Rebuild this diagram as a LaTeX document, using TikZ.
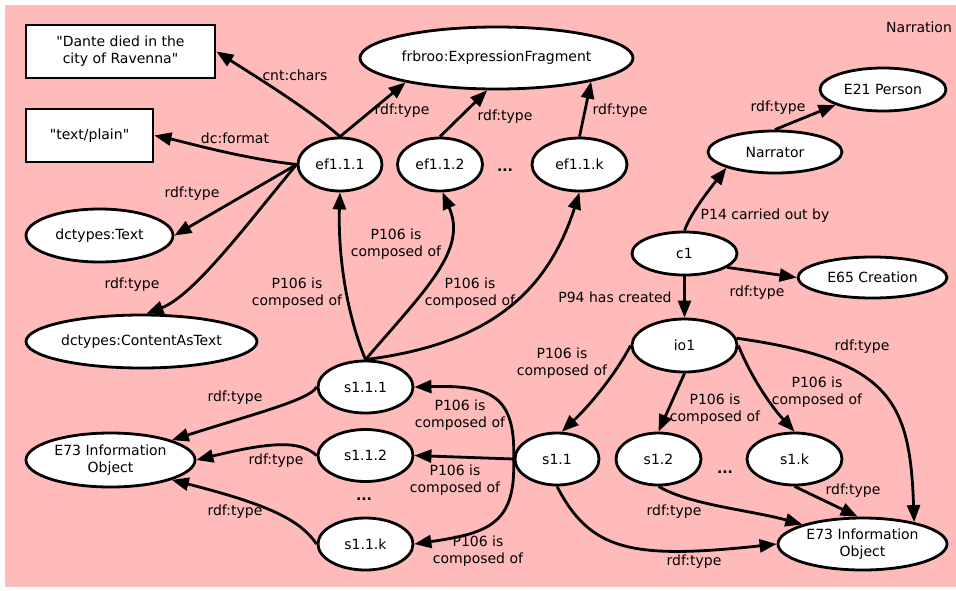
\documentclass[tikz,border=0pt]{standalone}
\usepackage{fontspec}
\setmainfont{DejaVu Sans}[Ligatures=TeXOff]
\usetikzlibrary{shapes.geometric,arrows.meta}
\definecolor{bgpink}{RGB}{255,186,186}
\begin{document}
\begin{tikzpicture}[x=1pt,y=-1pt,
  font=\fontsize{14}{17}\selectfont,
  ent/.style={ellipse,draw=black,fill=white,line width=2.8pt,inner sep=0pt,align=center},
  lit/.style={rectangle,draw=black,fill=white,line width=2.8pt,inner sep=0pt,align=center},
  rel/.style={line width=2.8pt,-{Triangle[length=17pt,width=13pt]}},
  lbl/.style={inner sep=0pt,align=center},
  ellip/.style={inner sep=0pt,anchor=base,font=\fontsize{14}{17}\selectfont\bfseries}]
\useasboundingbox (0,0) rectangle (956,590);
\fill[bgpink] (5,5) rectangle (960,587);

% literals
\node[lit,minimum width=189pt,minimum height=53pt] (dante) at (120.5,51.5) {"Dante died in the\\city of Ravenna"};
\node[lit,minimum width=127pt,minimum height=53pt] (plain) at (89.5,135.5) {"text/plain"};

% expression fragments
\node[ent,minimum width=273pt,minimum height=62pt] (frbroo) at (496.5,58) {frbroo:ExpressionFragment};
\node[ent,minimum width=84pt,minimum height=53pt] (ef111) at (340,164.5) {ef1.1.1};
\node[ent,minimum width=85pt,minimum height=53pt] (ef112) at (440,164.5) {ef1.1.2};
\node[ellip] (efdots) at (505,171) {...};
\node[ent,minimum width=95pt,minimum height=53pt] (ef11k) at (579.5,164.5) {ef1.1.k};
\node[ent,minimum width=147pt,minimum height=53pt] (dctext) at (99.5,235.5) {dctypes:Text};
\node[ent,minimum width=231pt,minimum height=53pt] (cat) at (141.5,341.5) {dctypes:ContentAsText};

% creation and narrator
\node[lbl,anchor=west] (narration) at (886,27) {Narration};
\node[ent,minimum width=126pt,minimum height=43pt] (e21) at (883,89.5) {E21 Person};
\node[ent,minimum width=134pt,minimum height=42pt] (narrator) at (775,152) {Narrator};
\node[ent,minimum width=105pt,minimum height=43pt] (c1) at (684.5,253.5) {c1};
\node[ent,minimum width=149pt,minimum height=41pt] (e65) at (872.5,277.5) {E65 Creation};

% information objects and segments
\node[ent,minimum width=105pt,minimum height=53pt] (io1) at (684.5,345.5) {io1};
\node[ent,minimum width=84pt,minimum height=52pt] (s11) at (557,459) {s1.1};
\node[ent,minimum width=85pt,minimum height=52pt] (s12) at (658.5,459) {s1.2};
\node[ellip] (sdots) at (725,473) {...};
\node[ent,minimum width=95pt,minimum height=52pt] (s1k) at (794.5,459) {s1.k};
\node[ent,minimum width=169pt,minimum height=52pt] (e73r) at (862.5,544) {E73 Information\\Object};

\node[ent,minimum width=95pt,minimum height=52pt] (s111) at (365.5,387) {s1.1.1};
\node[ent,minimum width=95pt,minimum height=52pt] (s112) at (365.5,455.5) {s1.1.2};
\node[ellip] (ssdots) at (364,500) {...};
\node[ent,minimum width=95pt,minimum height=52pt] (s11k) at (365.5,544) {s1.1.k};
\node[ent,minimum width=169pt,minimum height=54pt] (e73l) at (110.5,460) {E73 Information\\Object};

% properties of ef1.1.1
\draw[rel] (ef111.north) .. controls (310,110) and (255,76) .. (dante.east);
\draw[rel] (ef111.north) -- (frbroo.195);
\draw[rel] (ef111.west) .. controls (240,158) and (185,142) .. (plain.east);
\draw[rel] (ef111.west) -- (dctext.east);
\draw[rel] (ef111.west) .. controls (250,220) and (195,295) .. (cat.80);
\draw[rel] (ef112.north) -- (frbroo.254);
\draw[rel] (ef11k.north) -- (frbroo.346);

% creation
\draw[rel] (narrator.north) -- (e21.198);
\draw[rel] (c1.north) .. controls (690,215) and (705,195) .. (narrator.198);
\draw[rel] (c1.-18) -- (e65.west);
\draw[rel] (c1.south) -- (io1.north);

% s1.1.1 composed of fragments
\draw[rel] (s111.north) .. controls (345,310) and (338,250) .. (ef111.south);
\draw[rel] (s111.north) .. controls (425,290) and (468,250) .. (ef112.-85);
\draw[rel] (s111.north) .. controls (480,345) and (545,300) .. (ef11k.south);

% io1 composed of segments
\draw[rel] (io1.west) .. controls (615,375) and (590,405) .. (s11.80);
\draw[rel] (io1.south) -- (s12.north);
\draw[rel] (io1.east) .. controls (750,375) and (770,405) .. (s1k.north);
\draw[rel] (io1.8) .. controls (890,360) and (910,400) .. (e73r.23);
\draw[rel] (s12.south) .. controls (690,505) and (750,510) .. (e73r.162);
\draw[rel] (s1k.south) -- (e73r.100);
\draw[rel] (s11.south) .. controls (590,550) and (630,560) .. (e73r.west);

% s1.1 composed of subsegments
\draw[rel] (s11.west) .. controls (516,395) and (490,385) .. (s111.east);
\draw[rel] (s11.west) -- (s112.east);
\draw[rel] (s11.west) .. controls (516,523) and (490,533) .. (s11k.east);

% subsegment types
\draw[rel] (s111.west) .. controls (310,400) and (250,415) .. (e73l.18);
\draw[rel] (s112.west) .. controls (300,440) and (270,442) .. (e73l.east);
\draw[rel] (s11k.west) .. controls (300,520) and (270,505) .. (e73l.-18);

% edge labels
\node[lbl] (l1) at (295,75) {cnt:chars};
\node[lbl] (l2) at (402,111) {rdf:type};
\node[lbl] (l3) at (235,138) {dc:format};
\node[lbl] (l4) at (192,194) {rdf:type};
\node[lbl] (l5) at (132,285) {rdf:type};
\node[lbl] (l6) at (505,117) {rdf:type};
\node[lbl] (l7) at (620,111) {rdf:type};
\node[lbl] (l8) at (778,108) {rdf:type};
\node[lbl] (l9) at (765,216) {P14 carried out by};
\node[lbl] (l10) at (757,293) {rdf:type};
\node[lbl] (l11) at (615,297) {P94 has created};
\node[lbl] (l12) at (297,293) {P106 is\\composed of};
\node[lbl] (l13) at (396,244) {P106 is\\composed of};
\node[lbl] (l14) at (470,293) {P106 is\\composed of};
\node[lbl] (l15) at (562,363) {P106 is\\composed of};
\node[lbl] (l16) at (715,409) {P106 is\\composed of};
\node[lbl] (l17) at (817,392) {P106 is\\composed of};
\node[lbl] (l18) at (460,415) {P106 is\\composed of};
\node[lbl] (l19) at (455,480) {P106 is\\composed of};
\node[lbl] (l20) at (478,551) {P106 is\\composed of};
\node[lbl] (l21) at (862,347) {rdf:type};
\node[lbl] (l22) at (853,491) {rdf:type};
\node[lbl] (l23) at (674,512) {rdf:type};
\node[lbl] (l24) at (694,562) {rdf:type};
\node[lbl] (l25) at (235,398) {rdf:type};
\node[lbl] (l26) at (276,461) {rdf:type};
\node[lbl] (l27) at (235,512) {rdf:type};
\end{tikzpicture}
\end{document}
